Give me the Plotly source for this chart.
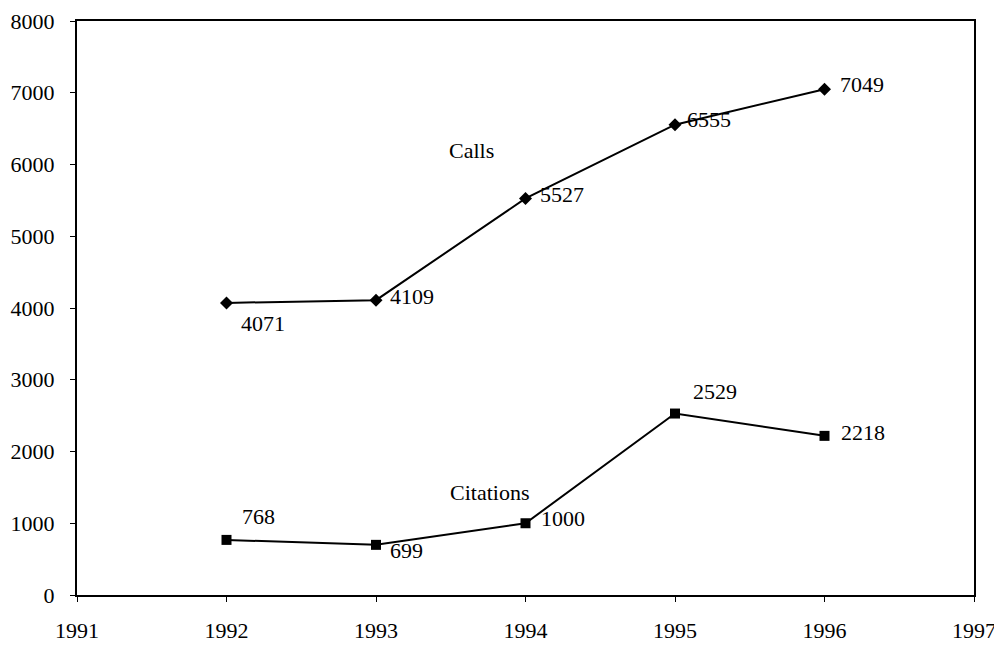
import plotly.graph_objects as go

years = [1992, 1993, 1994, 1995, 1996]
calls = [4071, 4109, 5527, 6555, 7049]
citations = [768, 699, 1000, 2529, 2218]
x_ticks = [1991, 1992, 1993, 1994, 1995, 1996, 1997]
y_ticks = [0, 1000, 2000, 3000, 4000, 5000, 6000, 7000, 8000]

# label offsets (pixels) for each point
calls_off = [(12, -21), (12, 4), (12, 4), (10, 5), (13, 5)]
cit_off = [(13, 23), (12, -6), (13, 5), (16, 22), (14, 3)]

FONT = "Liberation Serif"
FS = 22
fig = go.Figure()
fig.add_trace(go.Scatter(x=years, y=calls, mode="lines+markers",
                         line=dict(color="black", width=2),
                         marker=dict(symbol="diamond", size=10, color="black"),
                         name="Calls", showlegend=False, cliponaxis=False))
fig.add_trace(go.Scatter(x=years, y=citations, mode="lines+markers",
                         line=dict(color="black", width=2),
                         marker=dict(symbol="square", size=10, color="black"),
                         name="Citations", showlegend=False, cliponaxis=False))

for xv, yv, (dx, dy) in zip(years, calls, calls_off):
    fig.add_annotation(x=xv, y=yv, text=str(yv), showarrow=False,
                       xanchor="left", yanchor="middle", xshift=dx, yshift=dy,
                       font=dict(family=FONT, size=FS, color="black"))
for xv, yv, (dx, dy) in zip(years, citations, cit_off):
    fig.add_annotation(x=xv, y=yv, text=str(yv), showarrow=False,
                       xanchor="left", yanchor="middle", xshift=dx, yshift=dy,
                       font=dict(family=FONT, size=FS, color="black"))

fig.add_annotation(x=1993.64, y=6190, text="Calls", showarrow=False,
                   font=dict(family=FONT, size=FS, color="black"))
fig.add_annotation(x=1993.76, y=1435, text="Citations", showarrow=False,
                   font=dict(family=FONT, size=FS, color="black"))

fig.update_layout(
    width=994, height=639,
    margin=dict(l=69, r=28, t=13, b=52, autoexpand=False),
    paper_bgcolor="white", plot_bgcolor="white",
    font=dict(family=FONT, size=FS, color="black"),
    xaxis=dict(range=[1991, 1997], tickvals=x_ticks, ticktext=[str(v) for v in x_ticks],
               showgrid=False, zeroline=False, showline=True, linecolor="black", linewidth=2,
               mirror=True, ticks="outside", ticklen=5, tickcolor="black", ticklabelstandoff=10,
               automargin=False),
    yaxis=dict(range=[0, 8000], tickvals=y_ticks, ticktext=[str(v) for v in y_ticks],
               showgrid=False, zeroline=False, showline=True, linecolor="black", linewidth=2,
               mirror=True, ticks="outside", ticklen=5, tickcolor="black", ticklabelstandoff=11,
               automargin=False),
)
fig.write_html("out.html")
